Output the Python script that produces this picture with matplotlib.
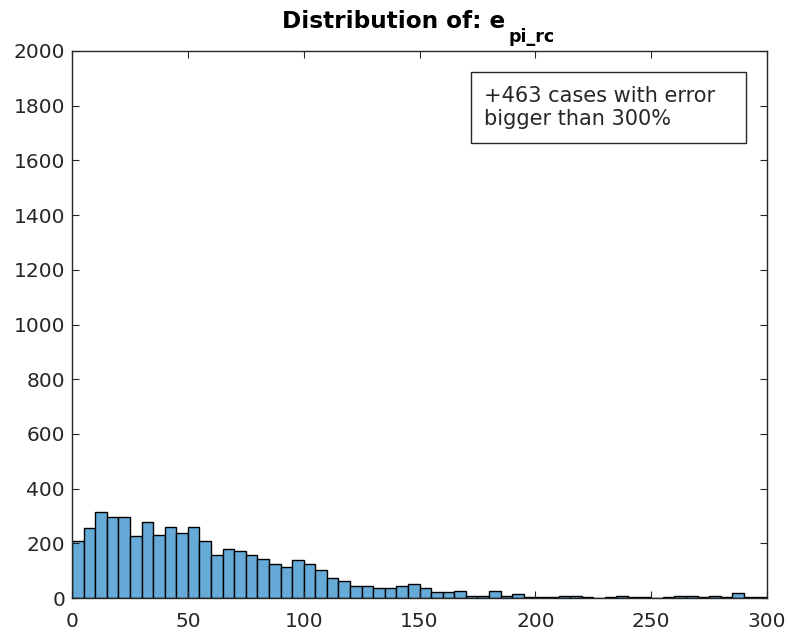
import matplotlib.pyplot as plt
import numpy as np
from matplotlib.patches import Rectangle

# histogram of e_pi_rc, bins of width 5 from 0 to 300
bin_edges = np.arange(0, 305, 5)
counts = [208, 256, 313, 295, 295, 225, 278, 232, 261, 239, 261, 208,
          156, 179, 173, 156, 144, 126, 113, 138, 126, 104, 74, 62,
          44, 44, 38, 38, 44, 50, 38, 21, 21, 27, 9, 9,
          27, 9, 16, 4, 3, 3, 9, 9, 3, 0, 2, 9,
          2, 2, 0, 2, 9, 9, 2, 9, 2, 18, 2, 2]
x_ticks = [0, 50, 100, 150, 200, 250, 300]
y_ticks = list(range(0, 2001, 200))
title_main = 'Distribution of: e'
title_sub = 'pi_rc'
note = '+463 cases with error\nbigger than 300%'

W, H = 788, 634
fig = plt.figure(figsize=(W / 100, H / 100), dpi=100)
ax = fig.add_axes([72 / W, 36 / H, 695 / W, 547 / H])

ax.bar(bin_edges[:-1], counts, width=5, align='edge',
       color=(0.4, 0.668, 0.845), edgecolor='black', linewidth=1.0)

ax.set_xlim(0, 300)
ax.set_ylim(0, 2000)
ax.set_xticks(x_ticks)
ax.set_yticks(y_ticks)
ax.tick_params(direction='in', top=True, right=True, labelsize=14.5,
               length=5, width=0.8, colors='#262626', pad=5)
ax.tick_params(axis='x', pad=10)
for s in ax.spines.values():
    s.set_linewidth(1.0)
    s.set_color('#262626')

# title with a MATLAB-like (low) subscript
fig.text(281.5 / W, 1 - 28.3 / H, title_main, fontsize=16.7,
         fontweight='bold', ha='left', va='baseline')
fig.text(509 / W, 1 - 41.7 / H, title_sub, fontsize=12.5,
         fontweight='bold', ha='left', va='baseline')

# annotation box (MATLAB-style textbox)
ax.add_patch(Rectangle((0.574, 0.832), 0.396, 0.1298, transform=ax.transAxes,
                       facecolor='white', edgecolor='#262626', linewidth=1.0,
                       zorder=3))
ax.text(0.593, 0.8967, note, transform=ax.transAxes, fontsize=15,
        va='center', ha='left', linespacing=1.2, color='#262626', zorder=4)

fig.savefig('out.png', dpi=100)
